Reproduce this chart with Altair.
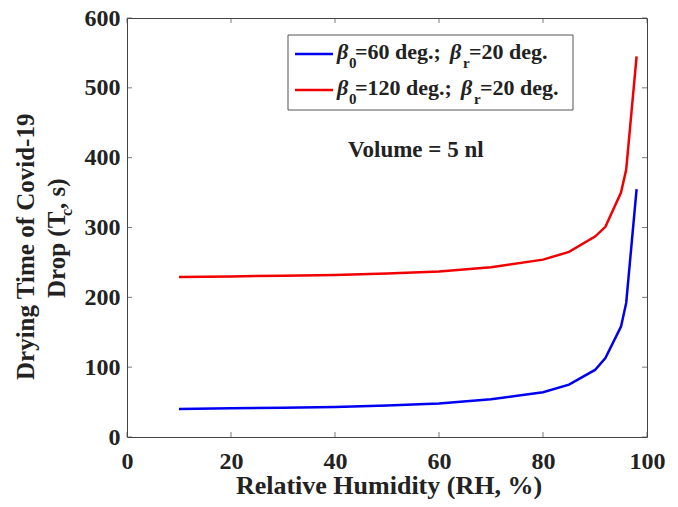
import altair as alt
import pandas as pd

# ---- data ----
rh = [10, 20, 30, 40, 50, 60, 70, 80, 85, 90, 92, 95, 96, 98]
t_60 = [40, 41, 42, 43, 45, 48, 54, 64, 75, 96, 113, 158, 192, 355]
t_120 = [229, 230, 231, 232, 234, 237, 243, 254, 265, 287, 301, 350, 383, 545]
series_names = ["b0=60", "b0=120"]
series_colors = ["#0000f0", "#f00000"]
x_ticks = [0, 20, 40, 60, 80, 100]
y_ticks = [0, 100, 200, 300, 400, 500, 600]

df = pd.DataFrame({
    "RH": rh * 2,
    "T": t_60 + t_120,
    "series": [series_names[0]] * len(rh) + [series_names[1]] * len(rh),
})

W, H = 520, 419
FONT = "Liberation Serif"
FRAME = "#444444"
dummy = pd.DataFrame({"d": [0]})

xs = alt.Scale(domain=[0, 100], nice=False, zero=False)
ys = alt.Scale(domain=[0, 600], nice=False)

lines = alt.Chart(df).mark_line(strokeWidth=2.5).encode(
    x=alt.X("RH:Q", scale=xs,
            axis=alt.Axis(values=x_ticks, title=None, domain=False, ticks=False, grid=False,
                          labelFont=FONT, labelFontSize=24, labelFontWeight="bold",
                          labelColor="#222222", labelPadding=12, labelFlush=False)),
    y=alt.Y("T:Q", scale=ys,
            axis=alt.Axis(values=y_ticks, title=None, domain=False, ticks=False, grid=False,
                          labelFont=FONT, labelFontSize=24, labelFontWeight="bold",
                          labelColor="#222222", labelPadding=7)),
    color=alt.Color("series:N", scale=alt.Scale(domain=series_names, range=series_colors), legend=None),
)

xt = pd.DataFrame({"v": x_ticks})
yt = pd.DataFrame({"v": y_ticks})
tick_x_bot = alt.Chart(xt).mark_tick(orient="vertical", size=5, thickness=1, color=FRAME).encode(
    x=alt.X("v:Q", scale=xs), y=alt.value(H - 2.5))
tick_x_top = alt.Chart(xt).mark_tick(orient="vertical", size=5, thickness=1, color=FRAME).encode(
    x=alt.X("v:Q", scale=xs), y=alt.value(2.5))
tick_y_left = alt.Chart(yt).mark_tick(orient="horizontal", size=5, thickness=1, color=FRAME).encode(
    y=alt.Y("v:Q", scale=ys), x=alt.value(2.5))
tick_y_right = alt.Chart(yt).mark_tick(orient="horizontal", size=5, thickness=1, color=FRAME).encode(
    y=alt.Y("v:Q", scale=ys), x=alt.value(W - 2.5))


def txt(s, x, y, size, style="normal", weight="bold", angle=0, align="left", baseline="alphabetic"):
    return alt.Chart(dummy).mark_text(
        text=s, font=FONT, fontSize=size, fontStyle=style, fontWeight=weight,
        angle=angle, align=align, baseline=baseline, color="#222222"
    ).encode(x=alt.value(x), y=alt.value(y))


legend_box = alt.Chart(dummy).mark_rect(fill="white", stroke="#555555", strokeWidth=1).encode(
    x=alt.value(161), x2=alt.value(446), y=alt.value(17), y2=alt.value(92))
leg_l1 = alt.Chart(dummy).mark_rule(color=series_colors[0], strokeWidth=2.5).encode(
    x=alt.value(168), x2=alt.value(206), y=alt.value(36))
leg_l2 = alt.Chart(dummy).mark_rule(color=series_colors[1], strokeWidth=2.5).encode(
    x=alt.value(168), x2=alt.value(206), y=alt.value(72))

legend_text = [
    txt("β", 210, 41, 22, style="italic"),
    txt("0", 222, 50, 15),
    txt("=60 deg.; ", 228, 41, 22),
    txt("β", 323, 41, 22, style="italic"),
    txt("r", 336, 50, 15),
    txt("=20 deg.", 342, 41, 22),
    txt("β", 210, 77, 22, style="italic"),
    txt("0", 222, 86, 15),
    txt("=120 deg.; ", 228, 77, 22),
    txt("β", 334, 77, 22, style="italic"),
    txt("r", 347, 86, 15),
    txt("=20 deg.", 353, 77, 22),
]

annot = [
    txt("Volume = 5 nl", 221, 139, 23),
    txt("Relative Humidity (RH, %)", 262, 476, 26, align="center"),
    txt("Drying Time of Covid-19", -93, 362, 25, angle=270),
    txt("Drop (T", -62, 280, 25, angle=270),
    txt("c", -55, 198, 16, angle=270),
    txt(", s)", -62, 191, 25, angle=270),
]

chart = alt.layer(
    lines, tick_x_bot, tick_x_top, tick_y_left, tick_y_right,
    legend_box, leg_l1, leg_l2, *legend_text, *annot
).properties(
    width=W, height=H,
    autosize=alt.AutoSizeParams(type="none"),
    padding={"left": 119, "top": 10, "right": 23, "bottom": 62},
    background="white",
).configure_view(stroke=FRAME, strokeWidth=1)

chart.save("out.html", embed_options={"renderer": "svg", "actions": False})
